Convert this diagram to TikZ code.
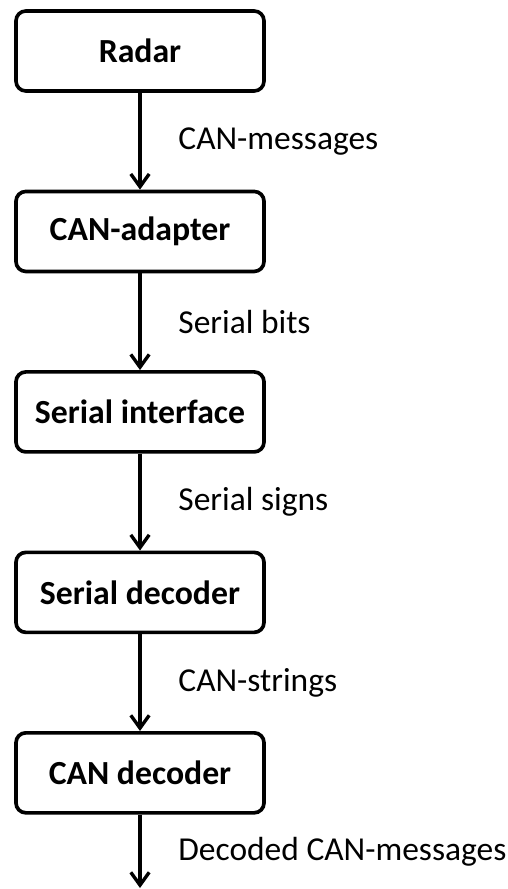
\documentclass[tikz,border=0pt]{standalone}
\usepackage{fontspec}
\setmainfont{Carlito}
\usetikzlibrary{positioning,arrows.meta}

\begin{document}
\begin{tikzpicture}[stage/.style={draw, line width=2.6pt, rounded corners=7pt, minimum width=6.2cm, minimum height=2cm, font=\fontsize{24}{28}\selectfont\bfseries},
	flow/.style={-{Straight Barb[length=3.2mm, width=4.6mm, line width=2.4pt]}, line width=2.3pt},
	msg/.style={anchor=west, inner sep=0pt, xshift=0.92cm, font=\fontsize{23.8}{28}\selectfont}]
		\useasboundingbox (0,0) rectangle (12.7,-22.225);

		\node[stage] at (3.5,-1.275) (radar) {Radar};
		\node[stage, below=2.42cm of radar] (adapter) {CAN-adapter};
		\node[stage, below=2.42cm of adapter] (interface) {Serial interface};
		\node[stage, below=2.42cm of interface] (serdec) {Serial decoder};
		\node[stage, below=2.42cm of serdec] (candec) {CAN decoder};
		\coordinate (out) at (3.5,-22.2);

		\draw[flow] (radar) -- node[msg] {CAN-messages} (adapter);
		\draw[flow] (adapter) -- node[msg] {Serial bits} (interface);
		\draw[flow] (interface) -- node[msg] {Serial signs} (serdec);
		\draw[flow] (serdec) -- node[msg] {CAN-strings} (candec);
		\draw[flow] (candec) -- node[msg] {Decoded CAN-messages} (out);
	\end{tikzpicture}
\end{document}
